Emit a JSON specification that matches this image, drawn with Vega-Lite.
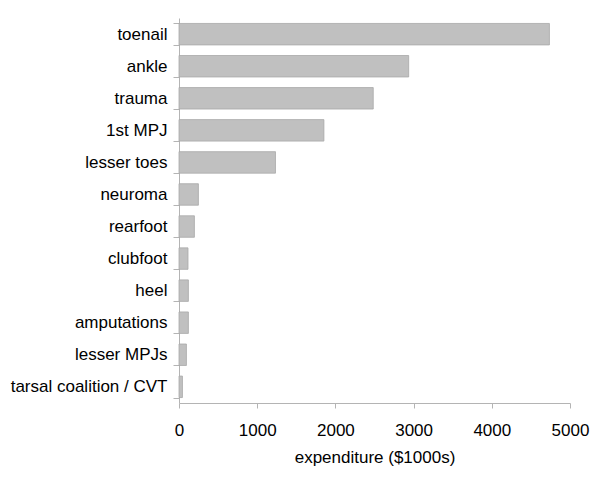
{
  "$schema": "https://vega.github.io/schema/vega-lite/v6.json",
  "width": 391,
  "height": 385,
  "autosize": "none",
  "padding": {"left": 179, "top": 18, "right": 30, "bottom": 80},
  "background": "white",
  "config": {"view": {"stroke": null}, "font": "Liberation Sans"},
  "data": {"values": [
    {"category": "toenail", "expenditure": 4737},
    {"category": "ankle", "expenditure": 2937},
    {"category": "trauma", "expenditure": 2484},
    {"category": "1st MPJ", "expenditure": 1853},
    {"category": "lesser toes", "expenditure": 1234},
    {"category": "neuroma", "expenditure": 248},
    {"category": "rearfoot", "expenditure": 197},
    {"category": "clubfoot", "expenditure": 115},
    {"category": "heel", "expenditure": 120},
    {"category": "amputations", "expenditure": 120},
    {"category": "lesser MPJs", "expenditure": 95},
    {"category": "tarsal coalition / CVT", "expenditure": 44}
  ]},
  "mark": {"type": "bar", "fill": "#c0c0c0", "stroke": "#a8a8a8", "strokeWidth": 0.8},
  "encoding": {
    "y": {
      "field": "category", "type": "nominal", "sort": null,
      "scale": {"paddingInner": 0.33, "paddingOuter": 0.17},
      "axis": {
        "title": null, "tickBand": "extent", "tickSize": 6, "labelPadding": 6,
        "labelFontSize": 17, "labelColor": "#000", "labelFont": "Liberation Sans",
        "domainColor": "#b4b4b4", "tickColor": "#b4b4b4", "labelLimit": 300
      }
    },
    "x": {
      "field": "expenditure", "type": "quantitative",
      "scale": {"domain": [0, 5000], "nice": false},
      "axis": {
        "title": "expenditure ($1000s)", "values": [0, 1000, 2000, 3000, 4000, 5000],
        "format": "d",
        "grid": false, "tickSize": 5, "labelPadding": 14, "labelFontSize": 17,
        "labelColor": "#000", "labelFont": "Liberation Sans", "labelFlush": false,
        "titleFontSize": 17, "titleFontWeight": "normal", "titleColor": "#000",
        "titleFont": "Liberation Sans", "titlePadding": 11,
        "domainColor": "#b4b4b4", "tickColor": "#b4b4b4"
      }
    }
  }
}
